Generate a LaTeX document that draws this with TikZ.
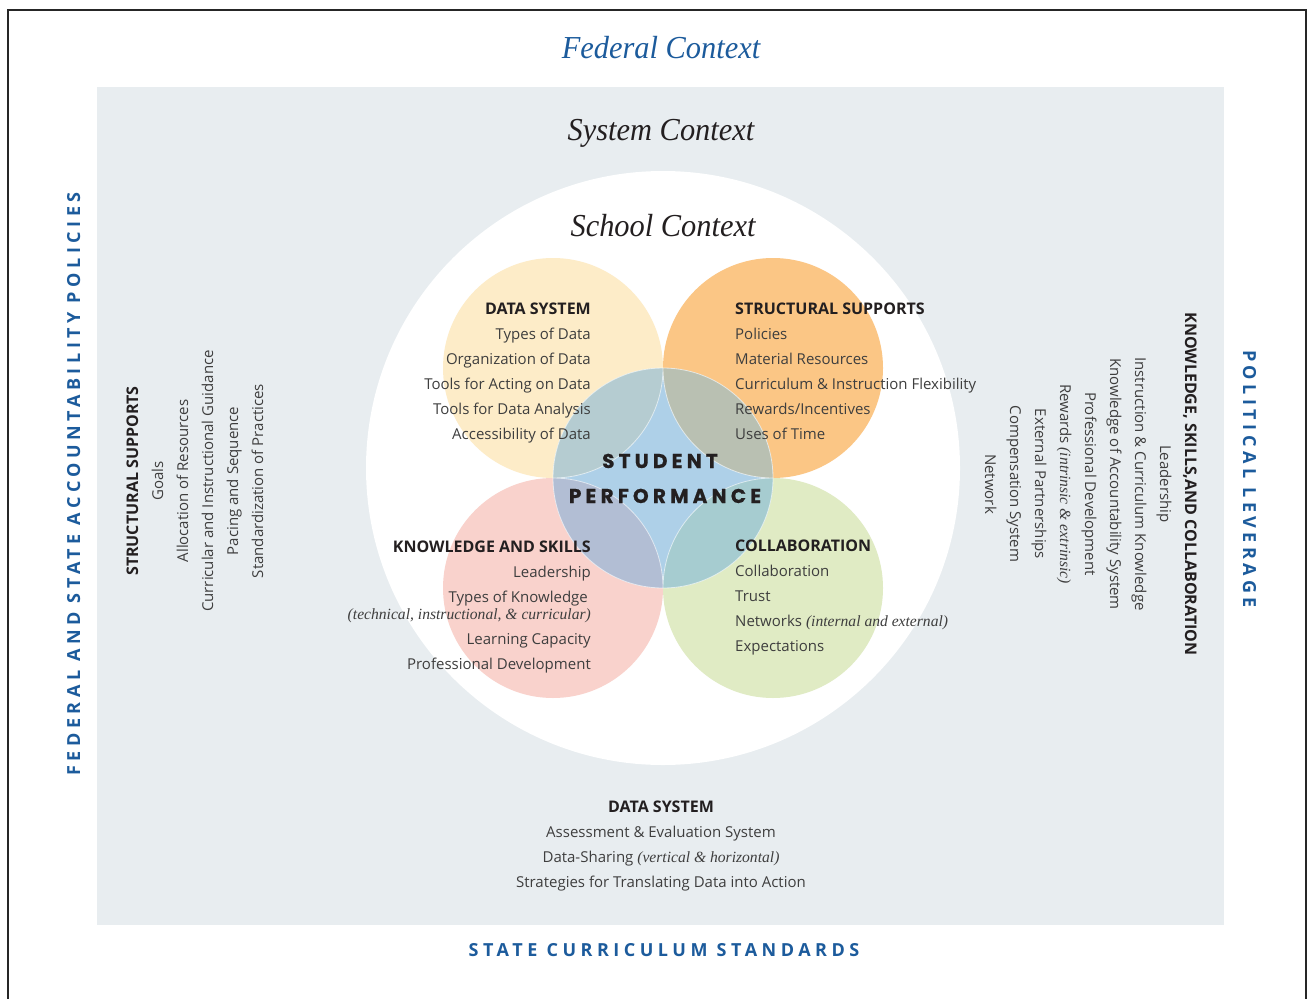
\documentclass[tikz,border=0pt]{standalone}
\usepackage{fontspec}
\setmainfont{Open Sans}
\newfontfamily\titlefont{Liberation Serif}[FakeStretch=0.95]
\newfontfamily\asidefont{Liberation Serif}
\newfontfamily\trackfont{Open Sans}[LetterSpace=25]
\newfontfamily\perffont{Poppins}[LetterSpace=21, FakeBold=0.6]
\newcommand\aside[1]{{\asidefont\itshape\fontsize{15.6}{18}\selectfont #1}}

\definecolor{fedblue}{RGB}{28,91,156}
\definecolor{panel}{RGB}{232,237,240}
\definecolor{bodytext}{RGB}{62,62,62}
\definecolor{headtext}{RGB}{35,31,32}
\definecolor{cdata}{RGB}{253,236,200}
\definecolor{cstruct}{RGB}{251,198,133}
\definecolor{cknow}{RGB}{249,210,204}
\definecolor{ccollab}{RGB}{224,235,196}
\definecolor{cstudent}{RGB}{174,208,232}
\definecolor{lensdata}{RGB}{181,204,209}
\definecolor{lensstruct}{RGB}{185,192,178}
\definecolor{lensknow}{RGB}{178,190,212}
\definecolor{lenscollab}{RGB}{166,204,208}

\tikzset{
  body/.style={font=\fontsize{15}{18}\selectfont, text=bodytext, inner sep=0pt},
  head/.style={font=\fontsize{16}{18}\selectfont\bfseries, text=headtext, inner sep=0pt},
  context/.style={font=\titlefont\itshape\fontsize{32}{36}\selectfont, inner sep=0pt, anchor=base},
  tracked/.style={font=\trackfont\bfseries\fontsize{18}{20}\selectfont, text=fedblue, inner sep=0pt, anchor=base},
  perf/.style={font=\perffont\bfseries\fontsize{20}{22}\selectfont, text=headtext, inner sep=0pt, anchor=base},
  rim/.style={draw=white, draw opacity=0.6, line width=0.8pt}
}

\begin{document}
\begin{tikzpicture}[x=1pt,y=-1pt]
  \path[use as bounding box, clip] (0,0) rectangle (1313,998);
  \fill[white] (0,0) rectangle (1313,998);

  % outer frame and system panel
  \draw[line width=1.4pt, draw=black!85] (8,10) rectangle (1306,1030);
  \fill[panel] (97,87) rectangle (1224,925);

  % school circle
  \fill[white] (663,468) circle[radius=297pt];

  % four support circles
  \fill[cdata]   (553,368) circle[radius=110pt];
  \fill[cstruct] (773,368) circle[radius=110pt];
  \fill[cknow]   (553,588) circle[radius=110pt];
  \fill[ccollab] (773,588) circle[radius=110pt];

  % central student circle and its overlaps
  \fill[cstudent] (663,478) circle[radius=110pt];
  \begin{scope}
    \clip (663,478) circle[radius=110pt];
    \fill[lensdata]   (553,368) circle[radius=110pt];
    \fill[lensstruct] (773,368) circle[radius=110pt];
    \fill[lensknow]   (553,588) circle[radius=110pt];
    \fill[lenscollab] (773,588) circle[radius=110pt];
  \end{scope}
  \begin{scope}
    \clip (663,478) circle[radius=110.5pt];
    \path[rim] (553,368) circle[radius=110pt] (773,368) circle[radius=110pt]
               (553,588) circle[radius=110pt] (773,588) circle[radius=110pt];
  \end{scope}
  \path[rim] (663,478) circle[radius=110pt];

  % context titles
  \node[context, text=fedblue] (federal) at (661,59) {Federal Context};
  \node[context, text=headtext] (system) at (661,140) {System Context};
  \node[context, text=headtext] (school) at (663,236) {School Context};

  % border labels
  \node[tracked, rotate=90] (accountability) at (80,484) {FEDERAL AND STATE ACCOUNTABILITY POLICIES};
  \node[tracked, rotate=-90] (leverage) at (1243,479) {POLITICAL LEVERAGE};
  \node[tracked] (standards) at (664,956) {STATE CURRICULUM STANDARDS};

  % student performance
  \node[perf] (student) at (660,468) {STUDENT};
  \node[perf] (performance) at (665,503) {PERFORMANCE};

  % data system (school)
  \node[head, anchor=base east] (ds0) at (591,314) {DATA SYSTEM};
  \foreach \t [count=\i] in {Types of Data, Organization of Data, Tools for Acting on Data,
      Tools for Data Analysis, Accessibility of Data}
    \node[body, anchor=base east] (ds\i) at (591,314+25*\i) {\t};

  % structural supports (school)
  \node[head, anchor=base west] (ss0) at (735,314) {STRUCTURAL SUPPORTS};
  \foreach \t [count=\i] in {Policies, Material Resources, Curriculum \& Instruction Flexibility,
      Rewards/Incentives, Uses of Time}
    \node[body, anchor=base west] (ss\i) at (735,314+25*\i) {\t};

  % knowledge and skills (school)
  \node[head, anchor=base east] (ks0) at (591,552) {KNOWLEDGE AND SKILLS};
  \node[body, anchor=base east] (ks1) at (591,577) {Leadership};
  \node[body, anchor=base east] (ks2) at (588,602) {Types of Knowledge};
  \node[body, anchor=base east] (ks3) at (591,619) {\aside{(technical, instructional, \& curricular)}};
  \node[body, anchor=base east] (ks4) at (591,644) {Learning Capacity};
  \node[body, anchor=base east] (ks5) at (591,669) {Professional Development};

  % collaboration (school)
  \node[head, anchor=base west] (co0) at (735,551) {COLLABORATION};
  \node[body, anchor=base west] (co1) at (735,576) {Collaboration};
  \node[body, anchor=base west] (co2) at (735,601) {Trust};
  \node[body, anchor=base west] (co3) at (735,626) {Networks \aside{(internal and external)}};
  \node[body, anchor=base west] (co4) at (735,651) {Expectations};

  % data system (system level)
  \node[head, anchor=base] (sd0) at (661,812) {DATA SYSTEM};
  \node[body, anchor=base] (sd1) at (661,837) {Assessment \& Evaluation System};
  \node[body, anchor=base] (sd2) at (661,862) {Data-Sharing \aside{(vertical \& horizontal)}};
  \node[body, anchor=base] (sd3) at (661,887) {Strategies for Translating Data into Action};

  % structural supports (system level), reading upward
  \node[head, anchor=base, rotate=90] (sl0) at (138,481) {STRUCTURAL SUPPORTS};
  \foreach \t [count=\i] in {Goals, Allocation of Resources, Curricular and Instructional Guidance,
      Pacing and Sequence, Standardization of Practices}
    \node[body, anchor=base, rotate=90] (sl\i) at (138+25*\i,481) {\t};

  % knowledge, skills and collaboration (system level), reading downward
  \node[head, anchor=base, rotate=-90] (sr0) at (1185,484) {KNOWLEDGE, SKILLS,AND COLLABORATION};
  \foreach \t [count=\i] in {Leadership, Instruction \& Curriculum Knowledge,
      Knowledge of Accountability System, Professional Development,
      {Rewards \aside{(intrinsic \& extrinsic)}}, External Partnerships,
      Compensation System, Network}
    \node[body, anchor=base, rotate=-90] (sr\i) at (1185-25*\i,484) {\t};
\end{tikzpicture}
\end{document}
